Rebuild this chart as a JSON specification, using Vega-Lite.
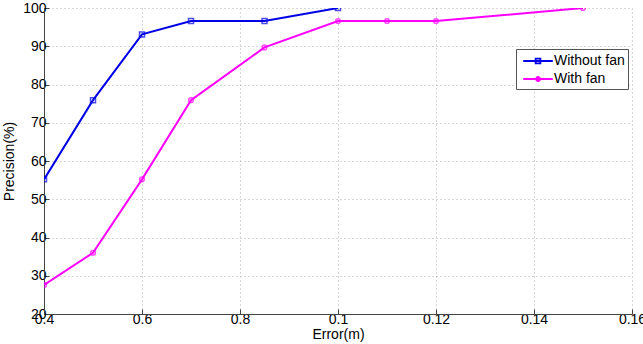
{
  "$schema": "https://vega.github.io/schema/vega-lite/v6.json",
  "width": 588,
  "height": 306,
  "autosize": "none",
  "padding": {"left": 44, "top": 8, "right": 11, "bottom": 30},
  "background": "white",
  "config": {
    "view": {"stroke": null},
    "font": "Liberation Sans",
    "axis": {
      "grid": true,
      "labelFont": "Liberation Sans",
      "titleFont": "Liberation Sans",
      "labelFontSize": 14,
      "titleFontSize": 14,
      "labelColor": "#000000",
      "titleColor": "#000000",
      "titleFontWeight": "normal",
      "domainColor": "#444444",
      "tickColor": "#444444",
      "tickSize": -5,
      "gridColor": "#b0b0b0",
      "gridDash": [1, 3],
      "gridWidth": 1,
      "gridOpacity": 1
    }
  },
  "data": {
    "values": [
      {"series": "Without fan", "error": 0.4, "precision": 55.2},
      {"series": "Without fan", "error": 0.5, "precision": 75.9},
      {"series": "Without fan", "error": 0.6, "precision": 93.1},
      {"series": "Without fan", "error": 0.7, "precision": 96.6},
      {"series": "Without fan", "error": 0.85, "precision": 96.6},
      {"series": "Without fan", "error": 1.0, "precision": 100},
      {"series": "With fan", "error": 0.4, "precision": 27.6},
      {"series": "With fan", "error": 0.5, "precision": 36.0},
      {"series": "With fan", "error": 0.6, "precision": 55.2},
      {"series": "With fan", "error": 0.7, "precision": 75.9},
      {"series": "With fan", "error": 0.85, "precision": 89.7},
      {"series": "With fan", "error": 1.0, "precision": 96.6},
      {"series": "With fan", "error": 1.1, "precision": 96.6},
      {"series": "With fan", "error": 1.2, "precision": 96.6},
      {"series": "With fan", "error": 1.5, "precision": 100}
    ]
  },
  "encoding": {
    "x": {
      "field": "error",
      "type": "quantitative",
      "scale": {"domain": [0.4, 1.6], "nice": false, "zero": false},
      "axis": {
        "title": "Error(m)",
        "grid": true,
        "values": [0.4, 0.6, 0.8, 1.0, 1.2, 1.4, 1.6],
        "labelExpr": "datum.value < 0.95 ? format(datum.value, '.1f') : (datum.value < 1.05 ? '0.1' : '0.' + round(datum.value * 10))",
        "labelPadding": 3,
        "titlePadding": 1,
        "labelFlush": false
      }
    },
    "y": {
      "field": "precision",
      "type": "quantitative",
      "scale": {"domain": [20, 100], "nice": false, "zero": false},
      "axis": {
        "title": "Precision(%)",
        "grid": true,
        "values": [20, 30, 40, 50, 60, 70, 80, 90, 100],
        "labelPadding": 3,
        "titlePadding": 6,
        "labelFlush": false
      }
    },
    "color": {
      "field": "series",
      "type": "nominal",
      "scale": {"domain": ["Without fan", "With fan"], "range": ["#0000e6", "#ff00ff"]},
      "legend": {
        "title": null,
        "orient": "none",
        "legendX": 472,
        "legendY": 41,
        "padding": 3,
        "strokeColor": "#555555",
        "fillColor": "white",
        "labelFont": "Liberation Sans",
        "labelFontSize": 14,
        "labelColor": "#000000",
        "symbolSize": 256,
        "symbolStrokeWidth": 1.8,
        "symbolType": "M-0.6,0H3.1M1,-0.3H1.6V0.3H1Z",
        "labelOffset": 17,
        "rowPadding": 2,
        "encode": {
          "symbols": {
            "update": {
              "shape": {"signal": "datum.label == 'Without fan' ? 'M-0.6,0H3.1M0.95,-0.3H1.55V0.3H0.95Z' : 'M-0.6,0H3.1M1,0A0.25,0.25 0 1,0 1.5,0A0.25,0.25 0 1,0 1,0Z'"},
              "fill": {"value": "transparent"}
            }
          }
        }
      }
    }
  },
  "layer": [
    {
      "mark": {"type": "line", "strokeWidth": 2, "clip": true}
    },
    {
      "transform": [{"filter": "datum.series == 'Without fan'"}],
      "mark": {"type": "point", "shape": "square", "filled": false, "size": 25, "strokeWidth": 1.5, "clip": true}
    },
    {
      "transform": [{"filter": "datum.series == 'With fan'"}],
      "mark": {"type": "point", "shape": "circle", "filled": false, "size": 22, "strokeWidth": 1.5, "clip": true}
    }
  ]
}
